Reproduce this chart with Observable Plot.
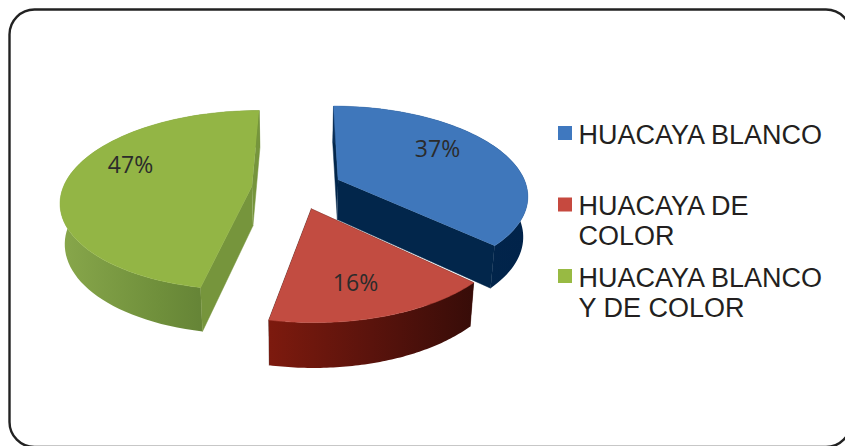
<!DOCTYPE html>
<html><head><meta charset="utf-8">
<script src="https://cdn.jsdelivr.net/npm/d3@7"></script>
<script src="https://cdn.jsdelivr.net/npm/@observablehq/plot@0.6"></script>
<style>html,body{margin:0;padding:0;background:#fff;overflow:hidden}svg{display:block}</style>
</head><body>
<div id="chart"></div>
<script>
const categories = ["HUACAYA BLANCO", "HUACAYA DE COLOR", "HUACAYA BLANCO Y DE COLOR"];
const shares = [37, 16, 47];
const legendLines = [["HUACAYA BLANCO"], ["HUACAYA DE", "COLOR"], ["HUACAYA BLANCO", "Y DE COLOR"]];
const topColors = ["#3f77bb", "#c24c41", "#93b545"];
const swatchColors = ["#3f78bf", "#c6493f", "#98ba43"];
const cutColors = ["#02264b", "#3d0e09", "#76953c"];
const sideFills = ["url(#sideBlue)", "url(#sideRed)", "url(#sideGreen)"];

// Perspective model of the exploded pie
const view = {cx: 296.5, cy: 187.5, rx: 189, ry: 88, k: 0.16, explode: 0.24, turn: 0.006};
const project = (u, v) => {
  const d = 1 - view.k * v;
  return [view.cx + view.rx * u / d, view.cy + view.ry * v / d];
};
const lower = ([x, y]) => [view.cx + (x - view.cx) * 0.98, view.cy + (y - view.cy) * 1.04 + 40];

let acc = 0;
const slices = shares.map((s, i) => {
  const a0 = acc / 100 * 2 * Math.PI + view.turn;
  acc += s;
  const a1 = acc / 100 * 2 * Math.PI + view.turn;
  const mid = (a0 + a1) / 2;
  const o = [Math.sin(mid) * view.explode, -Math.cos(mid) * view.explode];
  const rim = d3.range(0, 73).map(j => {
    const a = a0 + (a1 - a0) * j / 72;
    return project(o[0] + Math.sin(a), o[1] - Math.cos(a));
  });
  return {i, apex: project(o[0], o[1]), rim};
});

const poly = (pts, fill) => Plot.line(pts, {x: d => d[0], y: d => d[1], fill, stroke: fill.startsWith("url") ? "none" : fill, strokeWidth: 0.5, curve: "linear"});

const marks = [];
marks.push(Plot.rect([0], {x1: () => 9.5, x2: () => 851, y1: () => 9.5, y2: () => 447, rx: 25, fill: "none", stroke: "#222", strokeWidth: 2.4}));
for (const i of [0, 2, 1]) {
  const {apex, rim} = slices[i];
  const a = rim[0], b = rim[rim.length - 1];
  const side = poly([...rim, ...rim.map(lower).reverse()], sideFills[i]);
  const cuts = [poly([apex, a, lower(a), lower(apex)], cutColors[i]), poly([apex, b, lower(b), lower(apex)], cutColors[i])];
  if (i === 2) marks.push(side, ...cuts);
  else marks.push(...cuts, side);
  marks.push(poly([apex, ...rim], topColors[i]));
}

// percentage labels
const labelAt = [[437, 149], [355, 283], [130, 165]];
marks.push(Plot.text(shares.map((s, i) => ({t: s + "%", p: labelAt[i]})), {
  x: d => d.p[0], y: d => d.p[1], text: "t", fontSize: 23, fill: "#2b2b2b",
  fontFamily: "'Open Sans','Noto Sans',sans-serif", textAnchor: "middle", lineAnchor: "middle"
}));

// legend
const swatchY = [126, 197.5, 269];
const baselines = [[143], [214, 244], [286, 316]];
marks.push(Plot.rect(categories.map((c, i) => ({c, i})), {
  x1: () => 558, x2: () => 572, y1: d => swatchY[d.i], y2: d => swatchY[d.i] + 14, fill: d => swatchColors[d.i]
}));
const legendRows = legendLines.flatMap((ls, i) => ls.map((t, j) => ({t, y: baselines[i][j]})));
marks.push(Plot.text(legendRows, {
  x: () => 578, y: d => d.y, text: "t", fontSize: 27, fill: "#231f20", textAnchor: "start", lineAnchor: "bottom", dy: 0,
  fontFamily: "'Liberation Sans',Arial,sans-serif"
}));

const svg = Plot.plot({
  width: 845, height: 446, margin: 0,
  x: {domain: [0, 845], range: [0, 845], axis: null},
  y: {domain: [0, 446], range: [0, 446], axis: null},
  style: {background: "#fff"},
  marks
});
const stops = {
  sideBlue: ["#0a2f58", "#02264b", "#01234a"],
  sideRed: ["#7d1a0e", "#5a130c", "#370c08"],
  sideGreen: ["#88a74b", "#6f8f3b", "#587530"]
};
const ns = "http://www.w3.org/2000/svg";
const defs = document.createElementNS(ns, "defs");
for (const [id, cs] of Object.entries(stops)) {
  const g = document.createElementNS(ns, "linearGradient");
  g.setAttribute("id", id);
  cs.forEach((c, i) => {
    const s = document.createElementNS(ns, "stop");
    s.setAttribute("offset", i / (cs.length - 1));
    s.setAttribute("stop-color", c);
    g.appendChild(s);
  });
  defs.appendChild(g);
}
svg.insertBefore(defs, svg.firstChild);
document.getElementById("chart").appendChild(svg);
</script>
</body></html>
